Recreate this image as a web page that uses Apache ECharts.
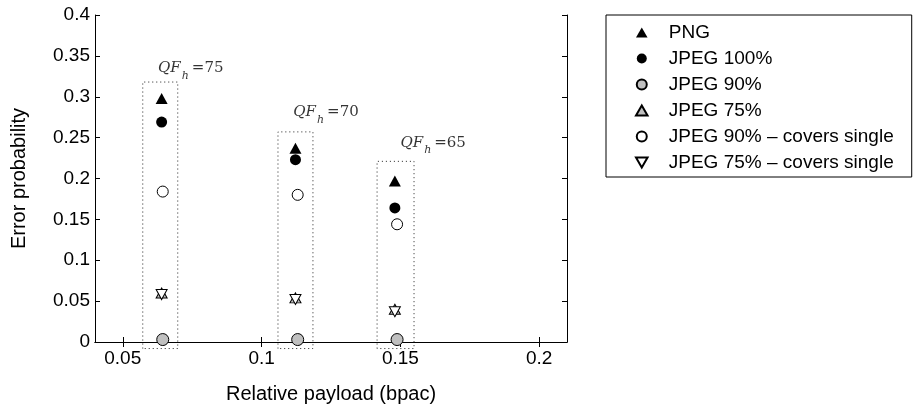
<!DOCTYPE html>
<html><head><meta charset="utf-8">
<script src="https://cdn.jsdelivr.net/npm/echarts@6/dist/echarts.min.js"></script>
<style>html,body{margin:0;padding:0;background:#fff}#c{width:914px;height:409px}</style>
</head><body><div id="c"></div>
<script>
// payload positions per group (bpac)
const xLeft = [0.0640, 0.1122, 0.1480];   // PNG / JPEG100 / JPEG75 markers
const xRight = [0.0644, 0.1130, 0.1488];  // JPEG90 / covers-single markers
const png = [0.298, 0.237, 0.197];
const jpeg100 = [0.269, 0.223, 0.164];
const jpeg90 = [0.003, 0.003, 0.003];
const jpeg75 = [0.060, 0.054, 0.040];
const jpeg90Covers = [0.184, 0.180, 0.144];
const jpeg75Covers = [0.058, 0.052, 0.037];
// dotted group boxes
const boxX0 = [0.0572, 0.1059, 0.1416];
const boxX1 = [0.0698, 0.1185, 0.1549];
const boxTop = [0.318, 0.257, 0.221];
const boxBottom = -0.008;
// QF_h annotations
const qfValues = [75, 70, 65];
const qfX = [0.0745, 0.1232, 0.1618];
const qfY = [0.331, 0.277, 0.240];
const xTicks = [0.05, 0.1, 0.15, 0.2];

const pts = (xs, ys) => ys.map((v, i) => [xs[i], v]);
const boxSeries = boxX0.map((x0, i) => ({
  type: 'line', name: 'box' + i, silent: true, clip: false, symbol: 'none', z: 1,
  lineStyle: {color: '#222', width: 1, type: [1, 3]},
  data: [[x0, boxBottom], [x0, boxTop[i]], [boxX1[i], boxTop[i]], [boxX1[i], boxBottom], [x0, boxBottom]]
}));

const tri = 'path://M0,-10L8.66,5L-8.66,5Z';
const triDown = 'path://M0,10L8.66,-5L-8.66,-5Z';

const chart = echarts.init(document.getElementById('c'), null, {renderer: 'canvas'});
const font = 'Liberation Sans, Arial, sans-serif';
chart.setOption({
  animation: false,
  grid: {left: 95, right: 347, top: 15, bottom: 65, show: false},
  legend: {
    orient: 'vertical', left: 606, top: 15,
    borderColor: '#000', borderWidth: 1, borderRadius: 0,
    padding: [8, 18, 5, 29], itemGap: 7, itemWidth: 12, itemHeight: 10,
    textStyle: {fontFamily: font, fontSize: 19, color: '#000', padding: [0, 0, 0, 16]},
    data: ['PNG', 'JPEG 100%', 'JPEG 90%', 'JPEG 75%', 'JPEG 90% – covers single', 'JPEG 75% – covers single']
  },
  xAxis: [{
    type: 'value', min: 0.04, max: 0.21, position: 'bottom',
    name: 'Relative payload (bpac)', nameLocation: 'middle', nameGap: 42,
    nameTextStyle: {fontFamily: font, fontSize: 20, color: '#000'},
    axisLine: {lineStyle: {color: '#000', width: 1}},
    axisTick: {inside: true, length: 5, customValues: xTicks, lineStyle: {color: '#000'}},
    axisLabel: {customValues: xTicks, fontFamily: font, fontSize: 19, color: '#000', margin: 7},
    splitLine: {show: false}
  }, {
    type: 'value', min: 0.04, max: 0.21, position: 'top',
    axisLine: {lineStyle: {color: '#000', width: 1}},
    axisTick: {inside: true, length: 5, customValues: xTicks, lineStyle: {color: '#000'}},
    axisLabel: {show: false}, splitLine: {show: false}
  }],
  yAxis: [{
    type: 'value', min: 0, max: 0.4, interval: 0.05, position: 'left',
    name: 'Error probability', nameLocation: 'middle', nameGap: 66, nameRotate: 90,
    nameTextStyle: {fontFamily: font, fontSize: 20, color: '#000'},
    axisLine: {show: true, lineStyle: {color: '#000', width: 1}},
    axisTick: {show: true, inside: true, length: 5, lineStyle: {color: '#000'}},
    axisLabel: {fontFamily: font, fontSize: 19, color: '#000', margin: 5},
    splitLine: {show: false}
  }, {
    type: 'value', min: 0, max: 0.4, interval: 0.05, position: 'right',
    axisLine: {show: true, lineStyle: {color: '#000', width: 1}},
    axisTick: {show: true, inside: true, length: 5, lineStyle: {color: '#000'}},
    axisLabel: {show: false}, splitLine: {show: false}
  }],
  series: [
    ...boxSeries,
    {type: 'scatter', name: 'PNG', symbol: tri, symbolSize: [12, 11], z: 3,
     itemStyle: {color: '#000', borderColor: '#000', borderWidth: 0, opacity: 1}, data: pts(xLeft, png)},
    {type: 'scatter', name: 'JPEG 100%', symbol: 'circle', symbolSize: 11, z: 3,
     itemStyle: {color: '#000', opacity: 1}, data: pts(xLeft, jpeg100)},
    {type: 'scatter', name: 'JPEG 90%', symbol: 'circle', symbolSize: 12, z: 3, clip: false,
     itemStyle: {color: '#c0c0c0', borderColor: '#000', borderWidth: 1, opacity: 1}, data: pts(xRight, jpeg90)},
    {type: 'scatter', name: 'JPEG 75%', symbol: tri, symbolSize: [11, 10], z: 3,
     itemStyle: {color: '#c0c0c0', borderColor: '#000', borderWidth: 1, opacity: 1}, data: pts(xLeft, jpeg75)},
    {type: 'scatter', name: 'JPEG 90% – covers single', symbol: 'circle', symbolSize: 11, z: 3,
     itemStyle: {color: '#fff', borderColor: '#000', borderWidth: 1, opacity: 1}, data: pts(xRight, jpeg90Covers)},
    {type: 'scatter', name: 'JPEG 75% – covers single', symbol: triDown, symbolSize: [11, 10], z: 4,
     itemStyle: {color: '#fff', borderColor: '#000', borderWidth: 1, opacity: 1}, data: pts(xLeft, jpeg75Covers)},
    {type: 'scatter', name: 'qf', symbolSize: 0, silent: true, z: 5, clip: false,
     data: qfValues.map((v, i) => ({value: [qfX[i], qfY[i]], qf: v})),
     label: {show: true, position: 'inside',
       formatter: p => '{a|QF}{b|h}{c|=' + p.data.qf + '}',
       rich: {
         a: {fontFamily: 'DejaVu Serif, serif', fontStyle: 'italic', fontSize: 15, color: '#000', lineHeight: 24, padding: [0,0,6,0]},
         b: {fontFamily: 'DejaVu Serif, serif', fontStyle: 'italic', fontSize: 11, color: '#000', padding: [9, 3, 0, 1], lineHeight: 24},
         c: {fontFamily: 'DejaVu Serif, serif', fontSize: 15, color: '#000', padding: [0,0,6,0], lineHeight: 24}
       }}
    }
  ]
});
</script></body></html>
